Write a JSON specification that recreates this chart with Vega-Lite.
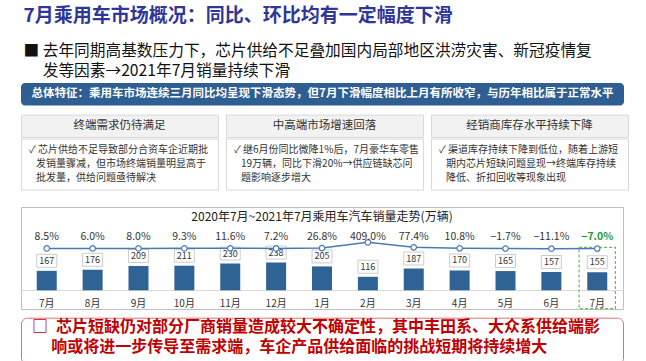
{
  "$schema": "https://vega.github.io/schema/vega-lite/v6.json",
  "background": "white",
  "padding": {"left": 20, "top": 7, "right": 23, "bottom": 2},
  "config": {
    "view": {"stroke": null},
    "font": "Noto Sans CJK SC",
    "text": {"font": "Noto Sans CJK SC"},
    "title": {"font": "Noto Sans CJK SC", "subtitleFont": "Noto Sans CJK SC"}
  },
  "title": {
    "text": "7月乘用车市场概况：同比、环比均有一定幅度下滑",
    "subtitle": ["■ 去年同期高基数压力下，芯片供给不足叠加国内局部地区洪涝灾害、新冠疫情复", "\u200b\u3000 发等因素→2021年7月销量持续下滑"],
    "anchor": "start",
    "dx": 3,
    "fontSize": 19,
    "fontWeight": "bold",
    "color": "#2F3699",
    "subtitleFontSize": 15.7,
    "subtitleColor": "#111111",
    "subtitleLineHeight": 20,
    "subtitlePadding": 18,
    "offset": 4
  },
  "spacing": 6.7,
  "vconcat": [
    {
      "spacing": 15,
      "vconcat": [
        {
          "spacing": 7.6,
          "vconcat": [
            {
              "width": 603,
              "height": 22.4,
              "view": {"fill": "#2E5E92", "stroke": null, "cornerRadius": 4},
              "data": {"values": [{"t": "总体特征：乘用车市场连续三月同比均呈现下滑态势，但7月下滑幅度相比上月有所收窄，与历年相比属于正常水平"}]},
              "mark": {"type": "text", "color": "white", "fontSize": 11.5, "fontWeight": "bold"},
              "encoding": {"text": {"field": "t"}}
            },
            {
              "spacing": 6,
              "hconcat": [
                {
                  "spacing": 0,
                  "vconcat": [
                    {
                      "width": 197, "height": 22.4,
                      "view": {"fill": "#F2F2F2", "stroke": "#D9D9D9"},
                      "data": {"values": [{"t": "终端需求仍待满足"}]},
                      "mark": {"type": "text", "fontSize": 11.5, "color": "#333333"},
                      "encoding": {"text": {"field": "t"}}
                    },
                    {
                      "width": 197, "height": 51,
                      "view": {"fill": "white", "stroke": "#D9D9D9"},
                      "title": {"text": ["✓ 芯片供给不足导致部分合资车企近期批", "\u200b\u2002\u2009发销量骤减，但市场终端销量明显高于", "\u200b\u2002\u2009批发量，供给问题亟待解决"], "anchor": "start", "dx": 8, "offset": -44, "fontSize": 10, "fontWeight": "normal", "color": "#333333", "lineHeight": 13.7},
                      "data": {"values": [{"t": " "}]},
                      "mark": {"type": "text"},
                      "encoding": {"text": {"field": "t"}}
                    }
                  ]
                },
                {
                  "spacing": 0,
                  "vconcat": [
                    {
                      "width": 197, "height": 22.4,
                      "view": {"fill": "#F2F2F2", "stroke": "#D9D9D9"},
                      "data": {"values": [{"t": "中高端市场增速回落"}]},
                      "mark": {"type": "text", "fontSize": 11.5, "color": "#333333"},
                      "encoding": {"text": {"field": "t"}}
                    },
                    {
                      "width": 197, "height": 51,
                      "view": {"fill": "white", "stroke": "#D9D9D9"},
                      "title": {"text": ["✓ 继6月份同比微降1%后，7月豪华车零售", "\u200b\u2002\u200919万辆，同比下滑20%→供应链缺芯问", "\u200b\u2002\u2009题影响逐步增大"], "anchor": "start", "dx": 8, "offset": -44, "fontSize": 10, "fontWeight": "normal", "color": "#333333", "lineHeight": 13.7},
                      "data": {"values": [{"t": " "}]},
                      "mark": {"type": "text"},
                      "encoding": {"text": {"field": "t"}}
                    }
                  ]
                },
                {
                  "spacing": 0,
                  "vconcat": [
                    {
                      "width": 197, "height": 22.4,
                      "view": {"fill": "#F2F2F2", "stroke": "#D9D9D9"},
                      "data": {"values": [{"t": "经销商库存水平持续下降"}]},
                      "mark": {"type": "text", "fontSize": 11.5, "color": "#333333"},
                      "encoding": {"text": {"field": "t"}}
                    },
                    {
                      "width": 197, "height": 51,
                      "view": {"fill": "white", "stroke": "#D9D9D9"},
                      "title": {"text": ["✓ 渠道库存持续下降到低位，随着上游短", "\u200b\u2002\u2009期内芯片短缺问题显现→终端库存持续", "\u200b\u2002\u2009降低、折扣回收等现象出现"], "anchor": "start", "dx": 8, "offset": -44, "fontSize": 10, "fontWeight": "normal", "color": "#333333", "lineHeight": 13.7},
                      "data": {"values": [{"t": " "}]},
                      "mark": {"type": "text"},
                      "encoding": {"text": {"field": "t"}}
                    }
                  ]
                }
              ]
            }
          ]
        },
        {
          "width": 602,
          "height": 102,
          "view": {"fill": "white", "stroke": "#BFBFBF"},
          "title": {"text": "2020年7月~2021年7月乘用车汽车销量走势(万辆)", "anchor": "middle", "offset": -16.5, "fontSize": 12, "fontWeight": "normal", "color": "#222222"},
          "data": {"values": [
            {"m": "2020-07", "v": 167, "p": 0.085},
            {"m": "2020-08", "v": 176, "p": 0.060},
            {"m": "2020-09", "v": 209, "p": 0.080},
            {"m": "2020-10", "v": 211, "p": 0.093},
            {"m": "2020-11", "v": 230, "p": 0.116},
            {"m": "2020-12", "v": 238, "p": 0.072},
            {"m": "2021-01", "v": 205, "p": 0.268},
            {"m": "2021-02", "v": 116, "p": 4.090},
            {"m": "2021-03", "v": 187, "p": 0.774},
            {"m": "2021-04", "v": 170, "p": 0.108},
            {"m": "2021-05", "v": 165, "p": -0.017},
            {"m": "2021-06", "v": 157, "p": -0.111},
            {"m": "2021-07", "v": 155, "p": -0.070}
          ]},
          "encoding": {
            "x": {
              "field": "m", "type": "ordinal",
              "scale": {"paddingInner": 0.564, "paddingOuter": 0.343},
              "axis": {"title": null, "labelExpr": "toNumber(slice(datum.value, 5)) + '月'", "offset": -19, "ticks": false, "domainColor": "#D9D9D9", "labelFontSize": 10, "labelColor": "#333333", "labelPadding": 8, "labelAngle": 0, "grid": false}
            }
          },
          "layer": [
            {
              "encoding": {"y": {"field": "v", "type": "quantitative", "scale": {"domain": [-160.5, 715], "nice": false, "zero": false}, "axis": null}},
              "layer": [
                {"mark": {"type": "bar", "color": "#2F6396", "width": {"band": 1}}},
                {
                  "transform": [{"filter": "datum.m === '2021-07'"}],
                  "mark": {"type": "bar", "fill": "transparent", "stroke": "#6BBF4E", "strokeWidth": 1.2, "strokeDash": [3, 2], "width": {"band": 1.815}},
                  "encoding": {"y": {"datum": 369, "type": "quantitative"}, "y2": {"datum": -157}}
                },
                {"mark": {"type": "point", "shape": "M-1,-0.65L1,-0.65L1,0.65L-1,0.65Z", "size": 400, "filled": true, "fill": "white", "stroke": "#BFBFBF", "strokeWidth": 0.8, "opacity": 1, "yOffset": -10}},
                {"mark": {"type": "text", "fontSize": 9, "color": "#333333", "yOffset": -10}, "encoding": {"text": {"field": "v", "type": "quantitative"}}}
              ]
            },
            {
              "encoding": {"y": {"field": "p", "type": "quantitative", "scale": {"domain": [-40.33, 27.67], "nice": false, "zero": false}, "axis": null}},
              "layer": [
                {"mark": {"type": "line", "color": "#4A7AB5", "strokeWidth": 1.5}},
                {"mark": {"type": "point", "filled": true, "fill": "white", "stroke": "#4A7AB5", "strokeWidth": 1.2, "size": 30, "opacity": 1}},
                {
                  "transform": [{"filter": "datum.m !== '2021-07'"}],
                  "mark": {"type": "text", "fontSize": 10.5, "color": "#333333"},
                  "encoding": {"y": {"datum": 7.8, "type": "quantitative"}, "text": {"field": "p", "type": "quantitative", "format": ".1%"}}
                },
                {
                  "transform": [{"filter": "datum.m === '2021-07'"}],
                  "mark": {"type": "text", "fontSize": 10.5, "color": "#1E9B2E", "fontWeight": "bold"},
                  "encoding": {"y": {"datum": 7.8, "type": "quantitative"}, "text": {"field": "p", "type": "quantitative", "format": ".1%"}}
                }
              ]
            }
          ],
          "resolve": {"scale": {"y": "independent"}, "axis": {"y": "independent"}}
        }
      ]
    },
    {
      "width": 602,
      "height": 46,
      "view": {"fill": "white", "stroke": "#E07070", "cornerRadius": 6},
      "title": {"text": ["□\u2002芯片短缺仍对部分厂商销量造成较大不确定性，其中丰田系、大众系供给端影", "\u200b\u3000\u2009响或将进一步传导至需求端，车企产品供给面临的挑战短期将持续增大"], "anchor": "start", "dx": 11, "offset": -37, "fontSize": 16, "fontWeight": "bold", "color": "#C00000", "lineHeight": 20},
      "data": {"values": [{"t": " "}]},
      "mark": {"type": "text"},
      "encoding": {"text": {"field": "t"}}
    }
  ]
}
